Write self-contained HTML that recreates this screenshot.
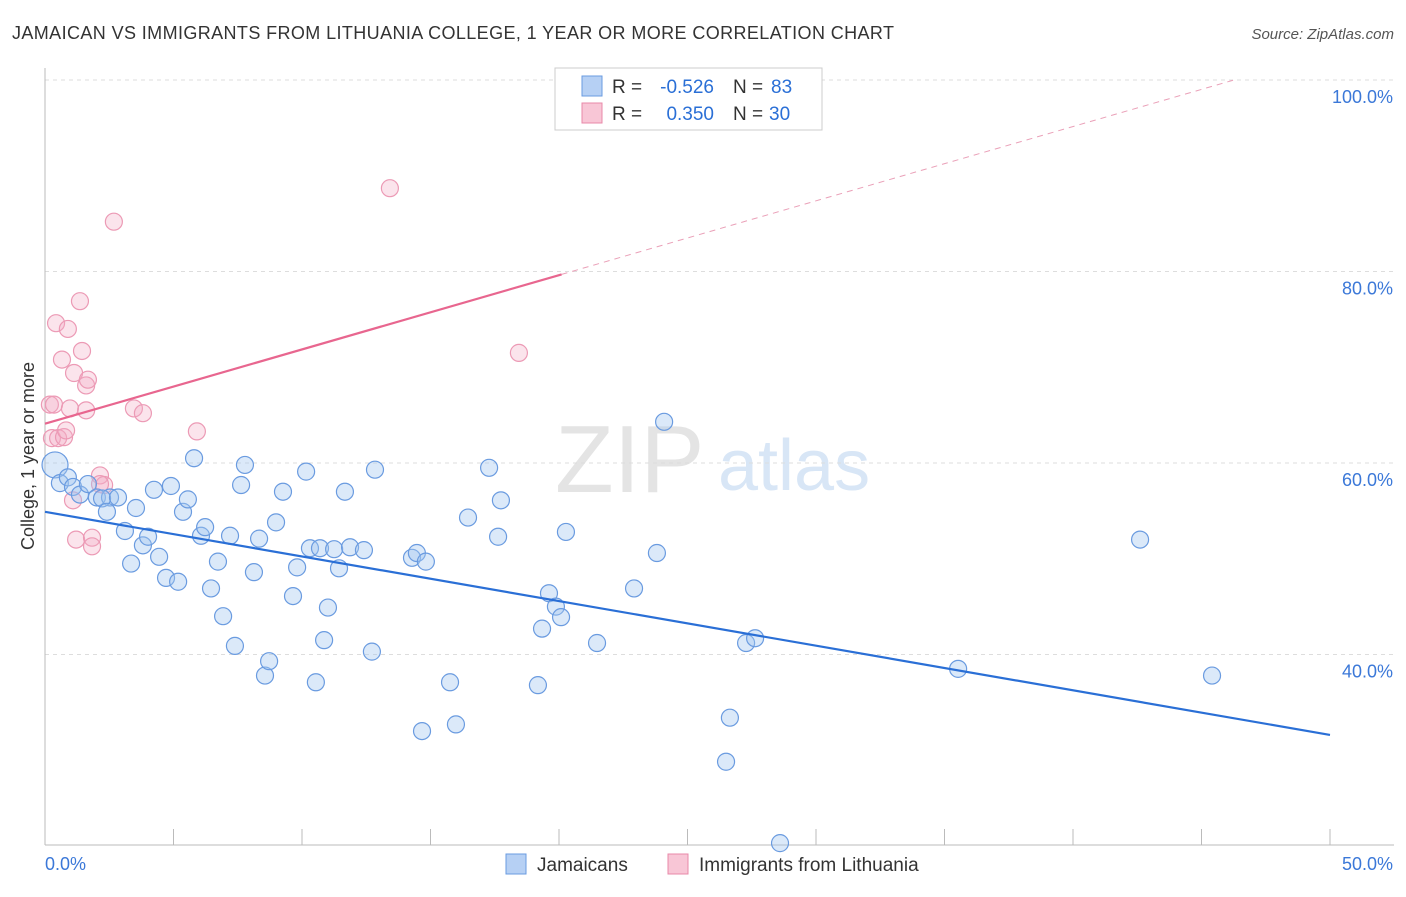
<!DOCTYPE html>
<html><head><meta charset="utf-8"><style>
body{margin:0;background:#fff;font-family:"Liberation Sans",sans-serif}
svg text{font-family:"Liberation Sans",sans-serif}
</style></head><body>
<svg id="c" width="1406" height="892" xmlns="http://www.w3.org/2000/svg">
<text x="12" y="39" font-size="18" fill="#333" textLength="882">JAMAICAN VS IMMIGRANTS FROM LITHUANIA COLLEGE, 1 YEAR OR MORE CORRELATION CHART</text>
<text x="1394" y="39" font-size="15" fill="#555" text-anchor="end" font-style="italic">Source: ZipAtlas.com</text>
<text x="34" y="456" font-size="18" fill="#333" text-anchor="middle" transform="rotate(-90 34 456)">College, 1 year or more</text>
<text x="555" y="492" font-size="96" fill="#e4e4e4" font-family="Liberation Serif">ZIP</text>
<text x="718" y="490" font-size="72" fill="#d8e6f6">atlas</text>
<g id="grid"></g><g id="pts"></g><g id="lines"></g>
<g>
<rect x="555" y="68" width="267" height="62" fill="#fff" stroke="#ccc"/>
<rect x="582" y="76" width="20" height="20" fill="#b6d0f4" stroke="#6a9be0"/>
<rect x="582" y="103" width="20" height="20" fill="#f8c6d6" stroke="#e888a8"/>
<text x="612" y="93" font-size="19" fill="#333">R =</text>
<text x="714" y="93" font-size="19" fill="#2a6fd6" text-anchor="end">-0.526</text>
<text x="733" y="93" font-size="19" fill="#333">N =</text>
<text x="771" y="93" font-size="19" fill="#2a6fd6">83</text>
<text x="612" y="120" font-size="19" fill="#333">R =</text>
<text x="714" y="120" font-size="19" fill="#2a6fd6" text-anchor="end">0.350</text>
<text x="733" y="120" font-size="19" fill="#333">N =</text>
<text x="769" y="120" font-size="19" fill="#2a6fd6">30</text>
</g>
<g>
<rect x="506" y="854" width="20" height="20" fill="#b6d0f4" stroke="#6a9be0"/>
<text x="537" y="871" font-size="19" fill="#333">Jamaicans</text>
<rect x="668" y="854" width="20" height="20" fill="#f8c6d6" stroke="#e888a8"/>
<text x="699" y="871" font-size="19" fill="#333">Immigrants from Lithuania</text>
</g>
</svg>
<script>
const yTicks=[100,80,60,40];
const yTickLabels=["100.0%","80.0%","60.0%","40.0%"];
const xTickVals=[0,5,10,15,20,25,30,35,40,45,50];
const blueX=[0.39,0.58,0.89,1.09,1.36,1.67,2.02,2.53,2.22,2.84,2.41,3.54,3.11,3.35,3.81,4.01,4.24,4.44,4.71,4.90,5.18,5.37,5.56,5.80,6.07,6.23,6.46,6.73,6.93,7.20,7.39,7.63,7.78,8.13,8.33,8.56,8.72,8.99,9.26,9.65,9.81,10.16,10.31,10.54,10.70,10.86,11.01,11.25,11.44,11.67,11.87,12.41,12.72,12.84,14.28,14.47,14.67,14.82,15.76,15.99,16.46,17.28,17.63,17.74,19.18,19.34,19.61,19.88,20.08,20.27,21.48,22.92,23.81,24.09,26.50,26.65,27.28,27.63,28.60,35.53,42.61,45.41];
const blueY=[59.8,57.9,58.5,57.5,56.7,57.8,56.4,56.4,56.3,56.4,54.9,55.3,52.9,49.5,51.4,52.3,57.2,50.2,48.0,57.6,47.6,54.9,56.2,60.5,52.4,53.3,46.9,49.7,44.0,52.4,40.9,57.7,59.8,48.6,52.1,37.8,39.3,53.8,57.0,46.1,49.1,59.1,51.1,37.1,51.1,41.5,44.9,51.0,49.0,57.0,51.2,50.9,40.3,59.3,50.1,50.6,32.0,49.7,37.1,32.7,54.3,59.5,52.3,56.1,36.8,42.7,46.4,45.0,43.9,52.8,41.2,46.9,50.6,64.3,28.8,33.4,41.2,41.7,20.3,38.5,52.0,37.8];
const pinkX=[0.19,0.35,0.27,0.51,0.43,0.66,0.74,0.82,0.89,0.97,1.09,1.13,1.21,1.36,1.44,1.60,1.67,1.60,1.83,1.83,2.14,2.30,2.68,3.46,3.81,5.91,13.42,18.44,2.14];
const pinkY=[66.1,66.1,62.6,62.6,74.6,70.8,62.7,63.4,74.0,65.7,56.1,69.4,52.0,76.9,71.7,68.1,68.7,65.5,52.2,51.3,58.7,57.7,85.2,65.7,65.2,63.3,88.7,71.5,57.8];
const blueFit=[54.9,31.6];
const pinkFit=[64.1,0.776];
const NS="http://www.w3.org/2000/svg";
const X=v=>45+v*25.7, Y=v=>80+(100-v)*9.575;
function mk(t,a,p){const e=document.createElementNS(NS,t);for(const k in a)e.setAttribute(k,a[k]);p.appendChild(e);return e;}
const g=document.getElementById('grid');
yTicks.forEach((t,i)=>{
 const l=mk('line',{x1:45,x2:1394,y1:Y(t),y2:Y(t),stroke:'#ddd','stroke-dasharray':'4,4'},g);
 
 
 const tx=mk('text',{x:1393,y:Y(t)+23,'font-size':18,fill:'#3b78d8','text-anchor':'end'},g);
 tx.textContent=yTickLabels[i];
 
 
});
mk('line',{x1:45,x2:45,y1:68,y2:845,stroke:'#bbb'},g);
mk('line',{x1:45,x2:1394,y1:845,y2:845,stroke:'#bbb'},g);
xTickVals.forEach(v=>{const l=mk('line',{x1:X(v),x2:X(v),y1:829,y2:845,stroke:'#bbb'},g);
 
 });
const xl=mk('text',{x:45,y:870,'font-size':18,fill:'#3b78d8'},g);xl.textContent='0.0%';


const xr=mk('text',{x:1393,y:870,'font-size':18,fill:'#3b78d8','text-anchor':'end'},g);xr.textContent='50.0%';


const p=document.getElementById('pts');
pinkX.forEach((x,i)=>{const c=mk('circle',{cx:X(x),cy:Y(pinkY[i]),r:8.5,fill:'rgba(244,170,195,0.32)',stroke:'#ec9ab5','stroke-width':1.2},p);
 
 });
blueX.forEach((x,i)=>{const c=mk('circle',{cx:X(x),cy:Y(blueY[i]),r:i==0?13:8.5,fill:'rgba(160,196,240,0.38)',stroke:'#6a9be0','stroke-width':1.2},p);
 
 });
const L=document.getElementById('lines');
const bl=mk('line',{x1:X(0),y1:Y(blueFit[0]),x2:X(50),y2:Y(blueFit[1]),stroke:'#2a6fd6','stroke-width':2.2},L);


const pf=x=>pinkFit[0]+pinkFit[1]*x;
const xe=(100-pinkFit[0])/pinkFit[1];
const pl=mk('line',{x1:X(0),y1:Y(pf(0)),x2:X(20.1),y2:Y(pf(20.1)),stroke:'#e8668f','stroke-width':2.2},L);


const pd=mk('line',{x1:X(20.1),y1:Y(pf(20.1)),x2:X(xe),y2:Y(100),stroke:'#eaa0b8','stroke-width':1,'stroke-dasharray':'6,5'},L);


</script>
</body></html>
